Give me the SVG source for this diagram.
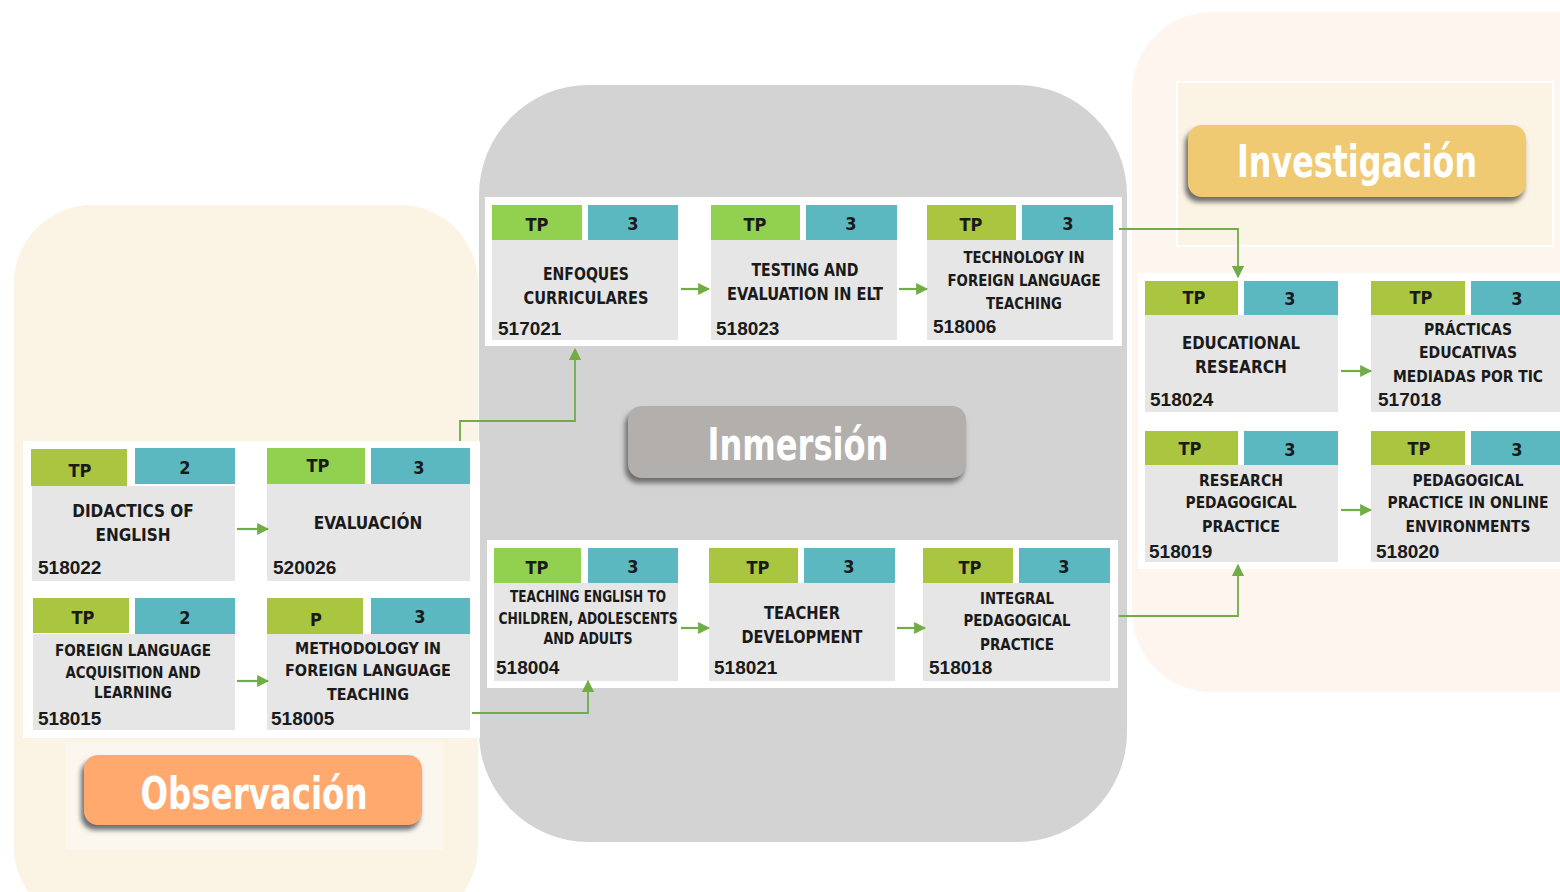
<svg xmlns="http://www.w3.org/2000/svg" width="1560" height="892" viewBox="0 0 1560 892">
<defs>
<style>
.tabg{fill:#AAC640}
.tabb{fill:#92D050}
.tabt{fill:#5BB8C1}
.body{fill:#E6E6E6}
.tl{font-family:"Liberation Sans Narrow","DejaVu Sans Condensed","Liberation Sans",sans-serif;font-weight:bold;fill:#1A1A1A;text-anchor:middle}
.t{font-size:17px}
.ts{font-size:15px}
.tab{font-size:18px}
.code{font-family:"Liberation Sans","DejaVu Sans",sans-serif;font-size:19px;fill:#1A1A1A;font-weight:bold}
.ttl{font-family:"Liberation Sans Narrow","DejaVu Sans Condensed","Liberation Sans",sans-serif;font-size:44px;font-weight:bold;fill:#FFFFFF;text-anchor:middle}
.conn{fill:none;stroke:#70AD47;stroke-width:1.8}
.arr{fill:none;stroke:#70AD47;stroke-width:2.2}
</style>
<marker id="ah" viewBox="0 0 10 10" refX="9" refY="5" markerWidth="5.5" markerHeight="5.5" markerUnits="strokeWidth" orient="auto">
<path d="M0,0 L10,5 L0,10 z" fill="#70AD47"/>
</marker>
<marker id="ah2" viewBox="0 0 10 10" refX="9" refY="5" markerWidth="7" markerHeight="7" markerUnits="strokeWidth" orient="auto">
<path d="M0,0 L10,5 L0,10 z" fill="#70AD47"/>
</marker>
<filter id="sh" x="-10%" y="-30%" width="120%" height="160%">
<feGaussianBlur stdDeviation="2.5"/>
</filter>
</defs>
<rect width="1560" height="892" fill="#FFFFFF"/>

<!-- panels -->
<g id="panel-observacion">
<rect x="14" y="205" width="464" height="720" rx="78" fill="#FBF4E4"/>
<rect x="66" y="742" width="377" height="108" fill="#FCF7EE"/>
<rect x="81" y="760" width="339" height="70" rx="14" fill="#6E6E6E" filter="url(#sh)"/>
<rect x="84" y="755" width="338" height="70" rx="14" fill="#FFA96E"/>
<text class="ttl" x="254" y="809" textLength="227" lengthAdjust="spacingAndGlyphs">Observación</text>
</g>
<g id="panel-inmersion">
<rect x="479" y="85" width="648" height="757" rx="110" fill="#D3D3D3"/>
<rect x="625" y="411" width="339" height="72" rx="14" fill="#6E6E6E" filter="url(#sh)"/>
<rect x="628" y="406" width="338" height="72" rx="14" fill="#B3AFAC"/>
<text class="ttl" x="798" y="460" textLength="181" lengthAdjust="spacingAndGlyphs">Inmersión</text>
</g>
<g id="panel-investigacion">
<rect x="1132" y="12" width="500" height="680" rx="80" fill="#FEF6EE"/>
<rect x="1177" y="82" width="376" height="164" fill="#FBF3E3" stroke="#FFFFFF" stroke-width="2"/>
<rect x="1185" y="130" width="339" height="72" rx="14" fill="#6E6E6E" filter="url(#sh)"/>
<rect x="1188" y="125" width="338" height="72" rx="14" fill="#F0CA72"/>
<text class="ttl" x="1357" y="177" textLength="240" lengthAdjust="spacingAndGlyphs">Investigación</text>
</g>

<!-- white containers -->
<rect x="23" y="441" width="457" height="297" fill="#FFFFFF"/>
<rect x="485" y="197" width="637" height="149" fill="#FFFFFF"/>
<rect x="487" y="540" width="631" height="148" fill="#FFFFFF"/>
<rect x="1138" y="273" width="430" height="296" fill="#FFFFFF"/>

<!-- Observación cards -->
<g id="c518022">
<rect class="tabg" x="31" y="449" width="96" height="37"/>
<rect class="tabt" x="135" y="448" width="100" height="36"/>
<rect class="body" x="32" y="486" width="203" height="95"/>
<text class="tl tab" x="80" y="477">TP</text>
<text class="tl tab" x="185" y="474">2</text>
<text class="tl t" x="133" y="517">DIDACTICS OF</text>
<text class="tl t" x="133" y="541">ENGLISH</text>
<text class="code" x="38" y="574">518022</text>
</g>
<g id="c520026">
<rect class="tabb" x="267" y="448" width="98" height="36"/>
<rect class="tabt" x="371" y="448" width="99" height="36"/>
<rect class="body" x="267" y="484" width="203" height="97"/>
<text class="tl tab" x="318" y="472">TP</text>
<text class="tl tab" x="419" y="474">3</text>
<text class="tl t" x="368" y="529">EVALUACIÓN</text>
<text class="code" x="273" y="574">520026</text>
</g>
<g id="c518015">
<rect class="tabg" x="33" y="598" width="96" height="35"/>
<rect class="tabt" x="135" y="598" width="100" height="36"/>
<rect class="body" x="33" y="634" width="202" height="96"/>
<text class="tl tab" x="83" y="624">TP</text>
<text class="tl tab" x="185" y="624">2</text>
<text class="tl ts" x="133" y="656" textLength="156" lengthAdjust="spacingAndGlyphs">FOREIGN LANGUAGE</text>
<text class="tl ts" x="133" y="678" textLength="135" lengthAdjust="spacingAndGlyphs">ACQUISITION AND</text>
<text class="tl ts" x="133" y="698" textLength="78" lengthAdjust="spacingAndGlyphs">LEARNING</text>
<text class="code" x="38" y="725">518015</text>
</g>
<g id="c518005">
<rect class="tabg" x="267" y="598" width="96" height="36"/>
<rect class="tabt" x="371" y="598" width="99" height="36"/>
<rect class="body" x="267" y="634" width="203" height="96"/>
<text class="tl tab" x="316" y="626">P</text>
<text class="tl tab" x="420" y="623">3</text>
<text class="tl ts" x="368" y="654" textLength="146" lengthAdjust="spacingAndGlyphs">METHODOLOGY IN</text>
<text class="tl ts" x="368" y="676" textLength="166" lengthAdjust="spacingAndGlyphs">FOREIGN LANGUAGE</text>
<text class="tl ts" x="368" y="700" textLength="82" lengthAdjust="spacingAndGlyphs">TEACHING</text>
<text class="code" x="271" y="725">518005</text>
</g>

<!-- Inmersión top cards -->
<g id="c517021">
<rect class="tabb" x="492" y="205" width="90" height="35"/>
<rect class="tabt" x="588" y="205" width="90" height="35"/>
<rect class="body" x="492" y="240" width="186" height="100"/>
<text class="tl tab" x="537" y="231">TP</text>
<text class="tl tab" x="633" y="230">3</text>
<text class="tl t" x="586" y="280" textLength="86" lengthAdjust="spacingAndGlyphs">ENFOQUES</text>
<text class="tl t" x="586" y="304" textLength="125" lengthAdjust="spacingAndGlyphs">CURRICULARES</text>
<text class="code" x="498" y="335">517021</text>
</g>
<g id="c518023">
<rect class="tabb" x="711" y="205" width="89" height="35"/>
<rect class="tabt" x="806" y="205" width="91" height="35"/>
<rect class="body" x="711" y="240" width="186" height="100"/>
<text class="tl tab" x="755" y="231">TP</text>
<text class="tl tab" x="851" y="230">3</text>
<text class="tl t" x="805" y="276" textLength="107" lengthAdjust="spacingAndGlyphs">TESTING AND</text>
<text class="tl t" x="805" y="300" textLength="156" lengthAdjust="spacingAndGlyphs">EVALUATION IN ELT</text>
<text class="code" x="716" y="335">518023</text>
</g>
<g id="c518006">
<rect class="tabg" x="927" y="205" width="89" height="35"/>
<rect class="tabt" x="1022" y="205" width="91" height="35"/>
<rect class="body" x="927" y="240" width="186" height="100"/>
<text class="tl tab" x="971" y="231">TP</text>
<text class="tl tab" x="1068" y="230">3</text>
<text class="tl ts" x="1024" y="263" textLength="121" lengthAdjust="spacingAndGlyphs">TECHNOLOGY IN</text>
<text class="tl ts" x="1024" y="286" textLength="153" lengthAdjust="spacingAndGlyphs">FOREIGN LANGUAGE</text>
<text class="tl ts" x="1024" y="309" textLength="76" lengthAdjust="spacingAndGlyphs">TEACHING</text>
<text class="code" x="933" y="333">518006</text>
</g>

<!-- Inmersión bottom cards -->
<g id="c518004">
<rect class="tabb" x="494" y="548" width="87" height="35"/>
<rect class="tabt" x="588" y="548" width="90" height="35"/>
<rect class="body" x="494" y="583" width="184" height="98"/>
<text class="tl tab" x="537" y="574">TP</text>
<text class="tl tab" x="633" y="573">3</text>
<text class="tl ts" x="588" y="602" textLength="156" lengthAdjust="spacingAndGlyphs">TEACHING ENGLISH TO</text>
<text class="tl ts" x="588" y="624" textLength="179" lengthAdjust="spacingAndGlyphs">CHILDREN, ADOLESCENTS</text>
<text class="tl ts" x="588" y="644" textLength="89" lengthAdjust="spacingAndGlyphs">AND ADULTS</text>
<text class="code" x="496" y="674">518004</text>
</g>
<g id="c518021">
<rect class="tabg" x="709" y="548" width="89" height="35"/>
<rect class="tabt" x="804" y="548" width="91" height="35"/>
<rect class="body" x="709" y="583" width="186" height="98"/>
<text class="tl tab" x="758" y="574">TP</text>
<text class="tl tab" x="849" y="573">3</text>
<text class="tl t" x="802" y="619" textLength="76" lengthAdjust="spacingAndGlyphs">TEACHER</text>
<text class="tl t" x="802" y="643" textLength="121" lengthAdjust="spacingAndGlyphs">DEVELOPMENT</text>
<text class="code" x="714" y="674">518021</text>
</g>
<g id="c518018">
<rect class="tabg" x="923" y="548" width="90" height="35"/>
<rect class="tabt" x="1019" y="548" width="91" height="35"/>
<rect class="body" x="923" y="583" width="187" height="98"/>
<text class="tl tab" x="970" y="574">TP</text>
<text class="tl tab" x="1064" y="573">3</text>
<text class="tl ts" x="1017" y="604" textLength="74" lengthAdjust="spacingAndGlyphs">INTEGRAL</text>
<text class="tl ts" x="1017" y="626" textLength="107" lengthAdjust="spacingAndGlyphs">PEDAGOGICAL</text>
<text class="tl ts" x="1017" y="650" textLength="74" lengthAdjust="spacingAndGlyphs">PRACTICE</text>
<text class="code" x="929" y="674">518018</text>
</g>

<!-- Investigación cards -->
<g id="c518024">
<rect class="tabg" x="1145" y="281" width="93" height="34"/>
<rect class="tabt" x="1244" y="281" width="94" height="34"/>
<rect class="body" x="1145" y="315" width="193" height="97"/>
<text class="tl tab" x="1194" y="304">TP</text>
<text class="tl tab" x="1290" y="305">3</text>
<text class="tl t" x="1241" y="349" textLength="118" lengthAdjust="spacingAndGlyphs">EDUCATIONAL</text>
<text class="tl t" x="1241" y="373" textLength="92" lengthAdjust="spacingAndGlyphs">RESEARCH</text>
<text class="code" x="1150" y="406">518024</text>
</g>
<g id="c517018">
<rect class="tabg" x="1371" y="281" width="94" height="34"/>
<rect class="tabt" x="1471" y="281" width="94" height="34"/>
<rect class="body" x="1371" y="315" width="194" height="97"/>
<text class="tl tab" x="1421" y="304">TP</text>
<text class="tl tab" x="1517" y="305">3</text>
<text class="tl ts" x="1468" y="335" textLength="88" lengthAdjust="spacingAndGlyphs">PRÁCTICAS</text>
<text class="tl ts" x="1468" y="358" textLength="98" lengthAdjust="spacingAndGlyphs">EDUCATIVAS</text>
<text class="tl ts" x="1468" y="382" textLength="150" lengthAdjust="spacingAndGlyphs">MEDIADAS POR TIC</text>
<text class="code" x="1378" y="406">517018</text>
</g>
<g id="c518019">
<rect class="tabg" x="1145" y="431" width="93" height="34"/>
<rect class="tabt" x="1244" y="431" width="94" height="34"/>
<rect class="body" x="1145" y="465" width="193" height="97"/>
<text class="tl tab" x="1190" y="455">TP</text>
<text class="tl tab" x="1290" y="456">3</text>
<text class="tl ts" x="1241" y="486" textLength="84" lengthAdjust="spacingAndGlyphs">RESEARCH</text>
<text class="tl ts" x="1241" y="508" textLength="111" lengthAdjust="spacingAndGlyphs">PEDAGOGICAL</text>
<text class="tl ts" x="1241" y="532" textLength="78" lengthAdjust="spacingAndGlyphs">PRACTICE</text>
<text class="code" x="1149" y="558">518019</text>
</g>
<g id="c518020">
<rect class="tabg" x="1371" y="431" width="94" height="34"/>
<rect class="tabt" x="1471" y="431" width="94" height="34"/>
<rect class="body" x="1371" y="465" width="194" height="97"/>
<text class="tl tab" x="1419" y="455">TP</text>
<text class="tl tab" x="1517" y="456">3</text>
<text class="tl ts" x="1468" y="486" textLength="111" lengthAdjust="spacingAndGlyphs">PEDAGOGICAL</text>
<text class="tl ts" x="1468" y="508" textLength="161" lengthAdjust="spacingAndGlyphs">PRACTICE IN ONLINE</text>
<text class="tl ts" x="1468" y="532" textLength="125" lengthAdjust="spacingAndGlyphs">ENVIRONMENTS</text>
<text class="code" x="1376" y="558">518020</text>
</g>

<!-- connectors -->
<g id="connectors">
<path class="arr" d="M237,529 H268" marker-end="url(#ah)"/>
<path class="arr" d="M237,681 H268" marker-end="url(#ah)"/>
<path class="arr" d="M681,289 H709" marker-end="url(#ah)"/>
<path class="arr" d="M899,289 H927" marker-end="url(#ah)"/>
<path class="arr" d="M681,628 H709" marker-end="url(#ah)"/>
<path class="arr" d="M897,628 H925" marker-end="url(#ah)"/>
<path class="arr" d="M1341,371 H1371" marker-end="url(#ah)"/>
<path class="arr" d="M1341,510 H1371" marker-end="url(#ah)"/>
<path class="conn" d="M460,441 V421 H575 V349" marker-end="url(#ah2)"/>
<path class="conn" d="M472,713 H588 V681" marker-end="url(#ah2)"/>
<path class="conn" d="M1119,229 H1238 V277" marker-end="url(#ah2)"/>
<path class="conn" d="M1119,616 H1238 V565" marker-end="url(#ah2)"/>
</g>
</svg>
